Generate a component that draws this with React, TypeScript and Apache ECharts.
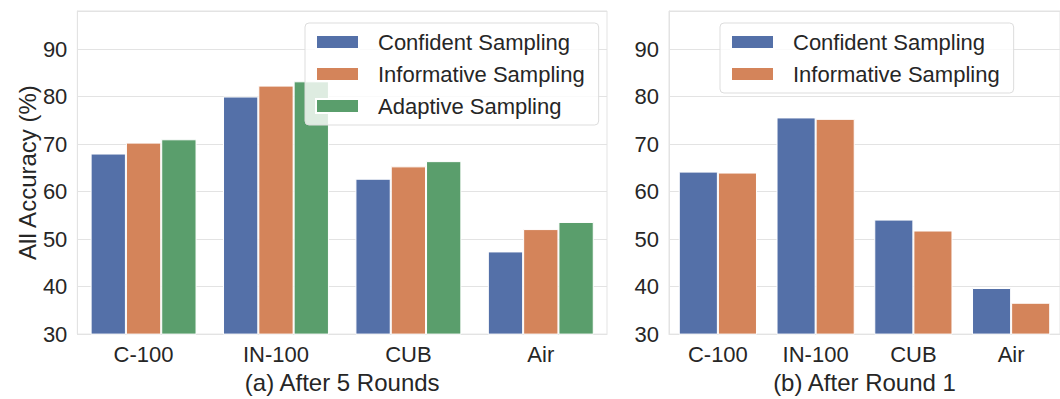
import React, { useEffect, useRef } from "react";
import * as echarts from "echarts";

const categories = ["C-100", "IN-100", "CUB", "Air"];
const seriesNamesA = ["Confident Sampling", "Informative Sampling", "Adaptive Sampling"];
const seriesNamesB = ["Confident Sampling", "Informative Sampling"];
const confidentA = [68.0, 80.0, 62.7, 47.4];
const informativeA = [70.3, 82.3, 65.3, 52.1];
const adaptiveA = [71.0, 83.2, 66.4, 53.6];
const confidentB = [64.2, 75.6, 54.1, 39.7];
const informativeB = [64.0, 75.3, 51.8, 36.6];
const titleA = "(a) After 5 Rounds";
const titleB = "(b) After Round 1";
const yName = "All Accuracy (%)";

const colors = ["#5470A8", "#D4845A", "#5A9E6C"];
const FONT = "Liberation Sans, Arial, sans-serif";
const TEXT = "#262626";
const GRID = "#e3e3e3";

export default function App() {
  const ref = useRef<HTMLDivElement>(null);
  useEffect(() => {
    if (!ref.current) return;
    const chart = echarts.init(ref.current, null, { renderer: "svg" });
    const yAxisBase = (idx: number) => ({
      type: "value",
      gridIndex: idx,
      min: 30,
      max: 98,
      interval: 10,
      axisLine: { show: true, lineStyle: { color: GRID } },
      axisTick: { show: false },
      axisLabel: { fontSize: 22, color: TEXT, fontFamily: FONT, margin: 10, showMaxLabel: false },
      splitLine: { show: true, lineStyle: { color: GRID, width: 1.2 } },
    });
    const xAxisBase = (idx: number, title: string) => ({
      type: "category",
      gridIndex: idx,
      data: categories,
      axisLine: { show: true, lineStyle: { color: GRID } },
      axisTick: { show: false },
      axisLabel: { fontSize: 22, color: TEXT, fontFamily: FONT, margin: 9 },
      name: title,
      nameLocation: "middle",
      nameGap: 33,
      nameTextStyle: { fontSize: 24, color: TEXT, fontFamily: FONT },
    });
    const bar = (name: string, data: number[], idx: number, color: string) => ({
      type: "bar",
      name,
      data,
      xAxisIndex: idx,
      yAxisIndex: idx,
      barGap: "0%",
      barCategoryGap: "20%",
      itemStyle: { color, borderColor: "#ffffff", borderWidth: 1 },
      z: 2,
    });
    const legendBase = (idx: number, data: string[], left: number) => ({
      orient: "vertical",
      left,
      top: 23,
      data,
      itemWidth: 43,
      itemHeight: 14,
      itemGap: 10,
      padding: [8, 14, 8, 10],
      icon: "rect",
      backgroundColor: "rgba(255,255,255,0.8)",
      borderColor: "#dddddd",
      borderWidth: 1,
      borderRadius: 4,
      z: 10,
      textStyle: { fontSize: 22, lineHeight: 22, color: TEXT, fontFamily: FONT, padding: [0, 0, 0, 14] },
    });
    chart.setOption({
      animation: false,
      backgroundColor: "#ffffff",
      grid: [
        { left: 76, top: 11, width: 531, height: 331, show: true, borderColor: GRID, borderWidth: 1 },
        { left: 669, top: 11, width: 393, height: 331, show: true, borderColor: GRID, borderWidth: 1 },
      ],
      legend: [legendBase(0, seriesNamesA, 305), legendBase(1, seriesNamesB, 720)],
      xAxis: [xAxisBase(0, titleA), xAxisBase(1, titleB)],
      yAxis: [
        {
          ...yAxisBase(0),
          name: yName,
          nameLocation: "middle",
          nameGap: 36,
          nameTextStyle: { fontSize: 24, color: TEXT, fontFamily: FONT },
        },
        yAxisBase(1),
      ],
      series: [
        bar(seriesNamesA[0], confidentA, 0, colors[0]),
        bar(seriesNamesA[1], informativeA, 0, colors[1]),
        bar(seriesNamesA[2], adaptiveA, 0, colors[2]),
        bar(seriesNamesB[0], confidentB, 1, colors[0]),
        bar(seriesNamesB[1], informativeB, 1, colors[1]),
      ],
    });
    return () => chart.dispose();
  }, []);
  return (
    <div
      ref={ref}
      style={{ position: "fixed", left: 0, top: 0, width: 1060, height: 399, background: "#fff" }}
    />
  );
}
